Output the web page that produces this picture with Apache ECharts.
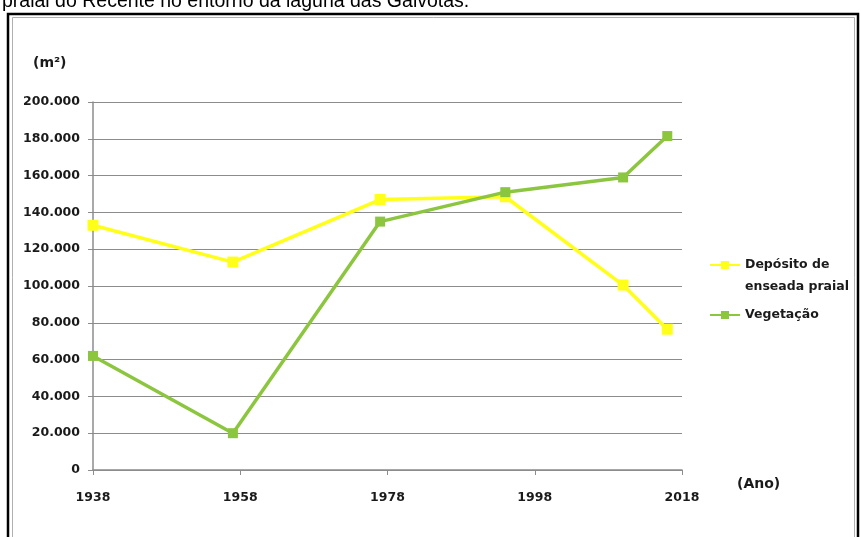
<!DOCTYPE html>
<html>
<head>
<meta charset="utf-8">
<script src="https://cdn.jsdelivr.net/npm/echarts@6/dist/echarts.min.js"></script>
<style>
  html, body { margin: 0; padding: 0; background: #fff; }
  #chart { width: 861px; height: 537px; }
</style>
</head>
<body>
<div id="chart"></div>
<script>
// Survey years and mapped areas (m²)
var years = [1938, 1957, 1977, 1994, 2010, 2016];
var depositoValues = [133000, 113000, 147000, 148500, 100500, 76500];
var vegetacaoValues = [62000, 20000, 135000, 151000, 159000, 181500];
var seriesNames = ['Depósito de enseada praial', 'Vegetação'];

function pairs(xs, ys) {
  return xs.map(function (x, i) { return [x, ys[i]]; });
}

function thousands(v) {
  return String(v).replace(/\B(?=(\d{3})+(?!\d))/g, '.');
}

var chart = echarts.init(document.getElementById('chart'), null, { renderer: 'canvas' });
var FONT = '"DejaVu Sans", sans-serif';
var labelFont = { fontFamily: FONT, fontWeight: 'bold', fontSize: 12.5, color: '#1a1a1a' };
var LEGEND_LINE = 22;

chart.setOption({
  backgroundColor: '#ffffff',
  animation: false,
  graphic: [
    { type: 'text', left: 2, top: -8,
      style: { text: 'praial do Recente no entorno da laguna das Gaivotas.', font: '19.5px "Liberation Sans", Arial, sans-serif', fill: '#000' } },
    { type: 'rect', shape: { x: 8, y: 14, width: 850, height: 530 },
      style: { fill: 'none', stroke: '#000', lineWidth: 2.5 } },
    { type: 'rect', shape: { x: 12.5, y: 17.5, width: 842, height: 530 },
      style: { fill: 'none', stroke: '#b0b0b0', lineWidth: 1 } }
  ],
  grid: { left: 93, right: 179, top: 102, bottom: 67 },
  legend: {
    orient: 'vertical',
    left: 709,
    top: 232,
    padding: 0,
    itemWidth: 30,
    itemHeight: 10,
    itemGap: 6,
    data: seriesNames,
    // the long name wraps onto two lines; a blank line above keeps its marker level with the first line
    formatter: function (name) {
      return name.indexOf('de enseada') >= 0 ? ' \n' + name.replace('de enseada', 'de\nenseada') : name;
    },
    textStyle: { fontFamily: FONT, fontWeight: 'bold', fontSize: 12.5, color: '#1a1a1a', lineHeight: LEGEND_LINE }
  },
  xAxis: {
    type: 'value',
    min: 1938,
    max: 2018,
    interval: 20,
    name: '(Ano)',
    nameLocation: 'end',
    nameGap: 55,
    nameTextStyle: { fontFamily: FONT, fontWeight: 'bold', fontSize: 14, color: '#1a1a1a', verticalAlign: 'top', padding: [7, 0, 0, 0] },
    axisLine: { lineStyle: { color: '#8c8c8c', width: 1.5 } },
    axisTick: { show: true, length: 5, lineStyle: { color: '#8c8c8c' } },
    axisLabel: Object.assign({ margin: 21, formatter: function (v) { return String(v); } }, labelFont),
    splitLine: { show: false }
  },
  yAxis: {
    type: 'value',
    min: 0,
    max: 200000,
    interval: 20000,
    name: '(m²)',
    nameLocation: 'end',
    nameGap: 32,
    nameTextStyle: { fontFamily: FONT, fontWeight: 'bold', fontSize: 14, color: '#1a1a1a', align: 'left', padding: [0, 0, 0, -60] },
    axisLine: { show: true, lineStyle: { color: '#8c8c8c', width: 1.5 } },
    axisTick: { show: true, length: 5, lineStyle: { color: '#8c8c8c' } },
    axisLabel: Object.assign({ margin: 13, formatter: thousands }, labelFont),
    splitLine: { show: true, lineStyle: { color: '#8c8c8c', width: 1.2 } }
  },
  series: [
    {
      name: seriesNames[0],
      type: 'line',
      data: pairs(years, depositoValues),
      symbol: 'rect',
      symbolSize: 11,
      lineStyle: { color: '#ffff1a', width: 3.5 },
      itemStyle: { color: '#ffff1a' },
      z: 2
    },
    {
      name: seriesNames[1],
      type: 'line',
      data: pairs(years, vegetacaoValues),
      symbol: 'rect',
      symbolSize: 10,
      lineStyle: { color: '#8cc63f', width: 3.5 },
      itemStyle: { color: '#8cc63f' },
      z: 3
    }
  ]
});
</script>
</body>
</html>
